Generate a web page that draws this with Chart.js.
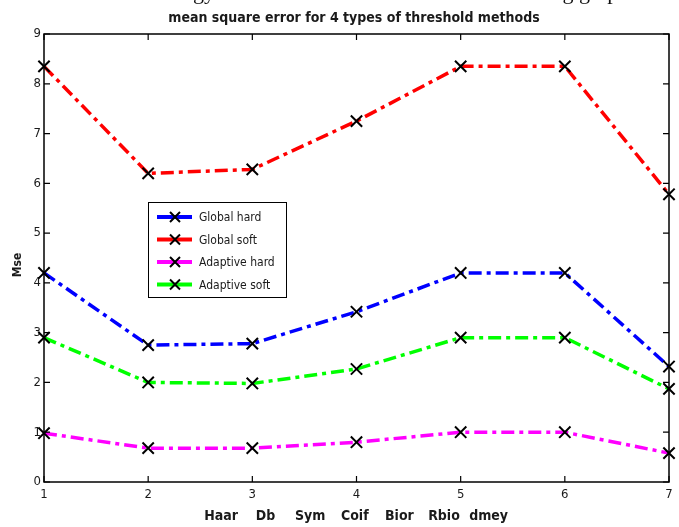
<!DOCTYPE html>
<html>
<head>
<meta charset="utf-8">
<script src="https://cdn.jsdelivr.net/npm/chart.js@4/dist/chart.umd.min.js"></script>
<style>
  html, body { margin: 0; padding: 0; background: #fff; }
  #wrap { width: 679px; height: 527px; }
</style>
</head>
<body>
<div id="wrap"><canvas id="c" width="679" height="527"></canvas></div>
<script>
// Decomposition level on the x axis, MSE per thresholding method
const categories = ['1', '2', '3', '4', '5', '6', '7'];
const globalHard   = [4.20, 2.75, 2.78, 3.42, 4.20, 4.20, 2.32];
const globalSoft   = [8.35, 6.20, 6.28, 7.25, 8.35, 8.35, 5.78];
const adaptiveHard = [0.98, 0.68, 0.68, 0.80, 1.00, 1.00, 0.58];
const adaptiveSoft = [2.90, 2.00, 1.98, 2.27, 2.90, 2.90, 1.87];
const yTicks = [0, 1, 2, 3, 4, 5, 6, 7, 8, 9];
const waveletNames = ['Haar', 'Db', 'Sym', 'Coif', 'Bior', 'Rbio', 'dmey'];
const seriesNames = ['Global hard', 'Global soft', 'Adaptive hard', 'Adaptive soft'];

const NARROW = '"Liberation Sans Narrow", "DejaVu Sans Condensed", "Arial Narrow", sans-serif';
const TEXT = '#1a1a1a';

function series(label, data, color) {
  return {
    label, data,
    borderColor: color,
    backgroundColor: color,
    borderWidth: 3.5,
    borderDash: [13, 5, 4, 5],
    tension: 0,
    fill: false,
    clip: false,
    pointStyle: 'crossRot',
    pointRadius: 8,
    pointBorderWidth: 2,
    pointBorderColor: '#000',
    pointBackgroundColor: '#000'
  };
}

// Box, inward tick marks, legend and free-standing texts
const decor = {
  id: 'decor',
  afterDatasetsDraw(chart) {
    const { ctx, chartArea: a, scales: { x, y } } = chart;
    ctx.save();
    ctx.strokeStyle = '#000';
    ctx.lineWidth = 1.5;
    ctx.strokeRect(a.left, a.top, a.right - a.left, a.bottom - a.top);
    ctx.lineWidth = 1.2;
    ctx.beginPath();
    categories.forEach((c, i) => {
      const px = x.getPixelForValue(i);
      ctx.moveTo(px, a.bottom); ctx.lineTo(px, a.bottom - 6);
      ctx.moveTo(px, a.top); ctx.lineTo(px, a.top + 6);
    });
    yTicks.forEach(v => {
      const py = y.getPixelForValue(v);
      ctx.moveTo(a.left, py); ctx.lineTo(a.left + 6, py);
      ctx.moveTo(a.right, py); ctx.lineTo(a.right - 6, py);
    });
    ctx.stroke();

    // legend
    const lx = 148, ly = 202, lw = 138, lh = 95;
    ctx.fillStyle = '#fff';
    ctx.fillRect(lx, ly, lw, lh);
    ctx.strokeStyle = '#000';
    ctx.lineWidth = 1;
    ctx.strokeRect(lx + 0.5, ly + 0.5, lw, lh);
    chart.data.datasets.forEach((ds, i) => {
      const ry = ly + 15 + i * 22.5;
      ctx.strokeStyle = ds.borderColor;
      ctx.lineWidth = 4;
      ctx.setLineDash([]);
      ctx.beginPath(); ctx.moveTo(157, ry); ctx.lineTo(192, ry); ctx.stroke();
      ctx.strokeStyle = '#000';
      ctx.lineWidth = 2;
      const d = 5;
      ctx.beginPath();
      ctx.moveTo(175 - d, ry - d); ctx.lineTo(175 + d, ry + d);
      ctx.moveTo(175 + d, ry - d); ctx.lineTo(175 - d, ry + d);
      ctx.stroke();
      ctx.fillStyle = TEXT;
      ctx.font = '12px ' + NARROW;
      ctx.textAlign = 'left';
      ctx.textBaseline = 'middle';
      ctx.fillText(ds.label, 199, ry + 1);
    });

    // title
    ctx.fillStyle = TEXT;
    ctx.font = 'bold 14px ' + NARROW;
    ctx.textAlign = 'center';
    ctx.textBaseline = 'middle';
    ctx.fillText('mean square error for 4 types of threshold methods', 354, 18);

    // x axis caption: wavelet families
    ctx.font = 'bold 14px ' + NARROW;
    waveletNames.forEach((w, i) => ctx.fillText(w, 221 + i * 44.6, 516));

    // y axis caption
    ctx.save();
    ctx.translate(18, 265);
    ctx.rotate(-Math.PI / 2);
    ctx.font = 'bold 12px ' + NARROW;
    ctx.fillText('Mse', 0, 0);
    ctx.restore();

    // clipped line of body text above the figure
    ctx.font = '22px "Liberation Serif", "DejaVu Serif", serif';
    ctx.fillStyle = '#111';
    ctx.textBaseline = 'alphabetic';
    ctx.textAlign = 'right';
    ctx.fillText('and the technology', 215, -1);
    ctx.textAlign = 'center';
    ctx.fillText('scores are shown in the', 340, -1);
    ctx.textAlign = 'left';
    ctx.fillText('following graphs.', 488, -1);
    ctx.restore();
  }
};

new Chart(document.getElementById('c'), {
  type: 'line',
  data: {
    labels: categories,
    datasets: [
      series(seriesNames[0], globalHard, '#0000ff'),
      series(seriesNames[1], globalSoft, '#ff0000'),
      series(seriesNames[2], adaptiveHard, '#ff00ff'),
      series(seriesNames[3], adaptiveSoft, '#00ff00')
    ]
  },
  options: {
    responsive: false,
    devicePixelRatio: 1,
    animation: false,
    layout: { padding: { left: 0, right: 9, top: 34, bottom: 0 } },
    plugins: { legend: { display: false }, title: { display: false }, tooltip: { enabled: false } },
    scales: {
      x: {
        type: 'category',
        offset: false,
        grid: { display: false, drawTicks: false },
        border: { display: false },
        ticks: { color: TEXT, font: { family: NARROW, size: 13 }, padding: 5, maxRotation: 0, autoSkip: false },
        afterFit(s) { s.height = 45; }
      },
      y: {
        min: 0, max: 9,
        grid: { display: false, drawTicks: false },
        border: { display: false },
        ticks: { stepSize: 1, color: TEXT, font: { family: NARROW, size: 13 }, padding: 3 },
        afterFit(s) { s.width = 44; }
      }
    }
  },
  plugins: [decor]
});
</script>
</body>
</html>
